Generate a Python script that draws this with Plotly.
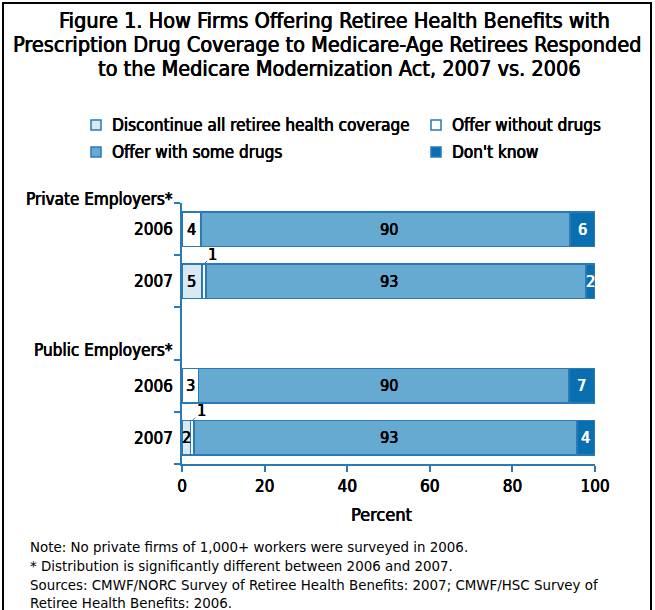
import plotly.graph_objects as go

# ---------------- data ----------------
categories = ["Private Employers*|2006", "Private Employers*|2007", "gap",
              "Public Employers*|2006", "Public Employers*|2007"]
bar_cats = ["Private Employers*|2006", "Private Employers*|2007",
            "Public Employers*|2006", "Public Employers*|2007"]
tick_text = ["2006", "2007", "", "2006", "2007"]
group_labels = ["Private Employers*", "Public Employers*"]

series_names = ["Discontinue all retiree health coverage", "Offer without drugs",
                "Offer with some drugs", "Don't know"]
discontinue = [0.0, 4.8, 0.0, 2.0]
without_drugs = [4.6, 1.0, 4.0, 0.9]
some_drugs = [89.4, 92.0, 89.7, 92.7]
dont_know = [6.0, 2.2, 6.3, 4.4]

discontinue_lbl = ["", "5", "", "2"]
without_lbl = ["4", "1", "3", "1"]
some_lbl = ["90", "93", "90", "93"]
dont_know_lbl = ["6", "2", "7", "4"]

x_ticks = [0, 20, 40, 60, 80, 100]

notes = ["Note: No private firms of 1,000+ workers were surveyed in 2006.",
         "* Distribution is significantly different between 2006 and 2007.",
         "Sources: CMWF/NORC Survey of Retiree Health Benefits: 2007; CMWF/HSC Survey of",
         "Retiree Health Benefits: 2006."]
title_lines = ["Figure 1. How Firms Offering Retiree Health Benefits with",
               "Prescription Drug Coverage to Medicare-Age Retirees Responded",
               "to the Medicare Modernization Act, 2007 vs. 2006"]

# ---------------- style ----------------
W, H = 655, 610
L, R, T, B = 182, 60, 203, 146
PW, PH = W - L - R, H - T - B
COND = "DejaVu Sans Condensed, Liberation Sans Narrow, Roboto Condensed, Arial Narrow, sans-serif"
REG = "DejaVu Sans, Liberation Sans, Arial, sans-serif"
BORDER = "#2a7ab8"
HEAVY = "0.45px 0px 0px black, -0.2px 0px 0px black"
HEAVY_W = "0.45px 0px 0px white, -0.2px 0px 0px white"
colors = ["#d9e9f4", "#ffffff", "#66a9d1", "#0a6fb1"]
values = [discontinue, without_drugs, some_drugs, dont_know]
labels = [discontinue_lbl, without_lbl, some_lbl, dont_know_lbl]
label_colors = ["black", "black", "black", "white"]
label_shadows = [HEAVY, HEAVY, HEAVY, HEAVY_W]


def pxx(x):
    return (x - L) / PW


def pxy(y):
    return (H - B - y) / PH


def cfont(size, color="black", shadow=HEAVY):
    return dict(family=COND, size=size, color=color, shadow=shadow)


fig = go.Figure()
for name, vals, col in zip(series_names, values, colors):
    fig.add_trace(go.Bar(
        y=bar_cats, x=vals, name=name, orientation="h",
        marker=dict(color=col, line=dict(color=BORDER, width=1.5)),
        width=0.66, showlegend=False, hoverinfo="x+name",
    ))

annotations = []
# segment labels
for i, cat in enumerate(bar_cats):
    total = sum(vals[i] for vals in values)
    start = 0.0
    for s, (vals, lbls) in enumerate(zip(values, labels)):
        v = vals[i]
        mid = start + v / 2
        if s == 2:
            mid = total / 2  # the big segment's label sits at the middle of the bar
        txt = lbls[i]
        if txt:
            if s == 1 and v < 2:
                annotations.append(dict(
                    x=mid, y=cat, xref="x", yref="y", text=txt, showarrow=True,
                    arrowhead=0, arrowwidth=1, arrowcolor=BORDER, ax=9, ay=-10,
                    yshift=17, standoff=0, font=cfont(16)))
            else:
                annotations.append(dict(
                    x=mid, y=cat, xref="x", yref="y", text=txt, showarrow=False,
                    font=cfont(16, label_colors[s], label_shadows[s])))
        start += v

# group labels
for lbl, ypx in zip(group_labels, [199, 350]):
    annotations.append(dict(x=pxx(175), y=pxy(ypx), xref="paper", yref="paper",
                            text=lbl, showarrow=False, xanchor="right", yanchor="middle",
                            font=cfont(17)))

# title
for line, xpx, ypx in zip(title_lines, [334, 327, 339], [21, 44, 68]):
    annotations.append(dict(x=pxx(xpx), y=pxy(ypx), xref="paper", yref="paper",
                            text=line, showarrow=False,
                            xanchor="center", yanchor="middle",
                            font=cfont(21.5)))

# legend (manual)
leg_pos = [(96, 125), (436, 125), (96, 152), (436, 152)]
shapes = []
for (cx, cy), name, col in zip(leg_pos, series_names, colors):
    shapes.append(dict(type="rect", xref="paper", yref="paper",
                       x0=pxx(cx - 5), x1=pxx(cx + 5), y0=pxy(cy + 5), y1=pxy(cy - 5),
                       fillcolor=col, line=dict(color=BORDER, width=1.5)))
    annotations.append(dict(x=pxx(cx + 14), y=pxy(cy), xref="paper", yref="paper",
                            text=name, showarrow=False, xanchor="left", yanchor="middle",
                            font=cfont(17)))

# axis title
annotations.append(dict(x=pxx(381), y=pxy(514), xref="paper", yref="paper",
                        text="Percent", showarrow=False, xanchor="center", yanchor="middle",
                        font=cfont(18)))

# notes
for line, ypx in zip(notes, [547, 566, 585, 603]):
    annotations.append(dict(x=pxx(28), y=pxy(ypx), xref="paper", yref="paper",
                            text=line, showarrow=False, xanchor="left", yanchor="middle",
                            font=dict(family=REG, size=13.4, color="black")))

# frame
shapes.append(dict(type="rect", xref="paper", yref="paper",
                   x0=pxx(3), x1=pxx(651), y0=pxy(625), y1=pxy(3),
                   line=dict(color="black", width=2), fillcolor="rgba(0,0,0,0)"))

fig.update_layout(
    barmode="stack", width=W, height=H,
    margin=dict(l=L, r=R, t=T, b=B, autoexpand=False),
    paper_bgcolor="white", plot_bgcolor="white",
    annotations=annotations, shapes=shapes,
    xaxis=dict(range=[0, 100], tickvals=x_ticks, ticks="outside", ticklen=6,
               tickcolor=BORDER, tickwidth=1.5, showline=True, linecolor=BORDER,
               linewidth=1.5, showgrid=False, zeroline=False,
               tickfont=cfont(17)),
    yaxis=dict(type="category", categoryorder="array", categoryarray=categories,
               range=[4.5, -0.5], tickvals=categories, ticktext=tick_text,
               tickson="boundaries", ticks="outside", ticklen=6, tickcolor=BORDER,
               tickwidth=1.5, showline=True, linecolor=BORDER, linewidth=1.5,
               showgrid=False, zeroline=False, ticklabelstandoff=4,
               tickfont=cfont(17)),
)

fig.write_html("out.html", config={"displayModeBar": False},
               post_script="document.body.style.margin='0';document.body.style.padding='0';")
